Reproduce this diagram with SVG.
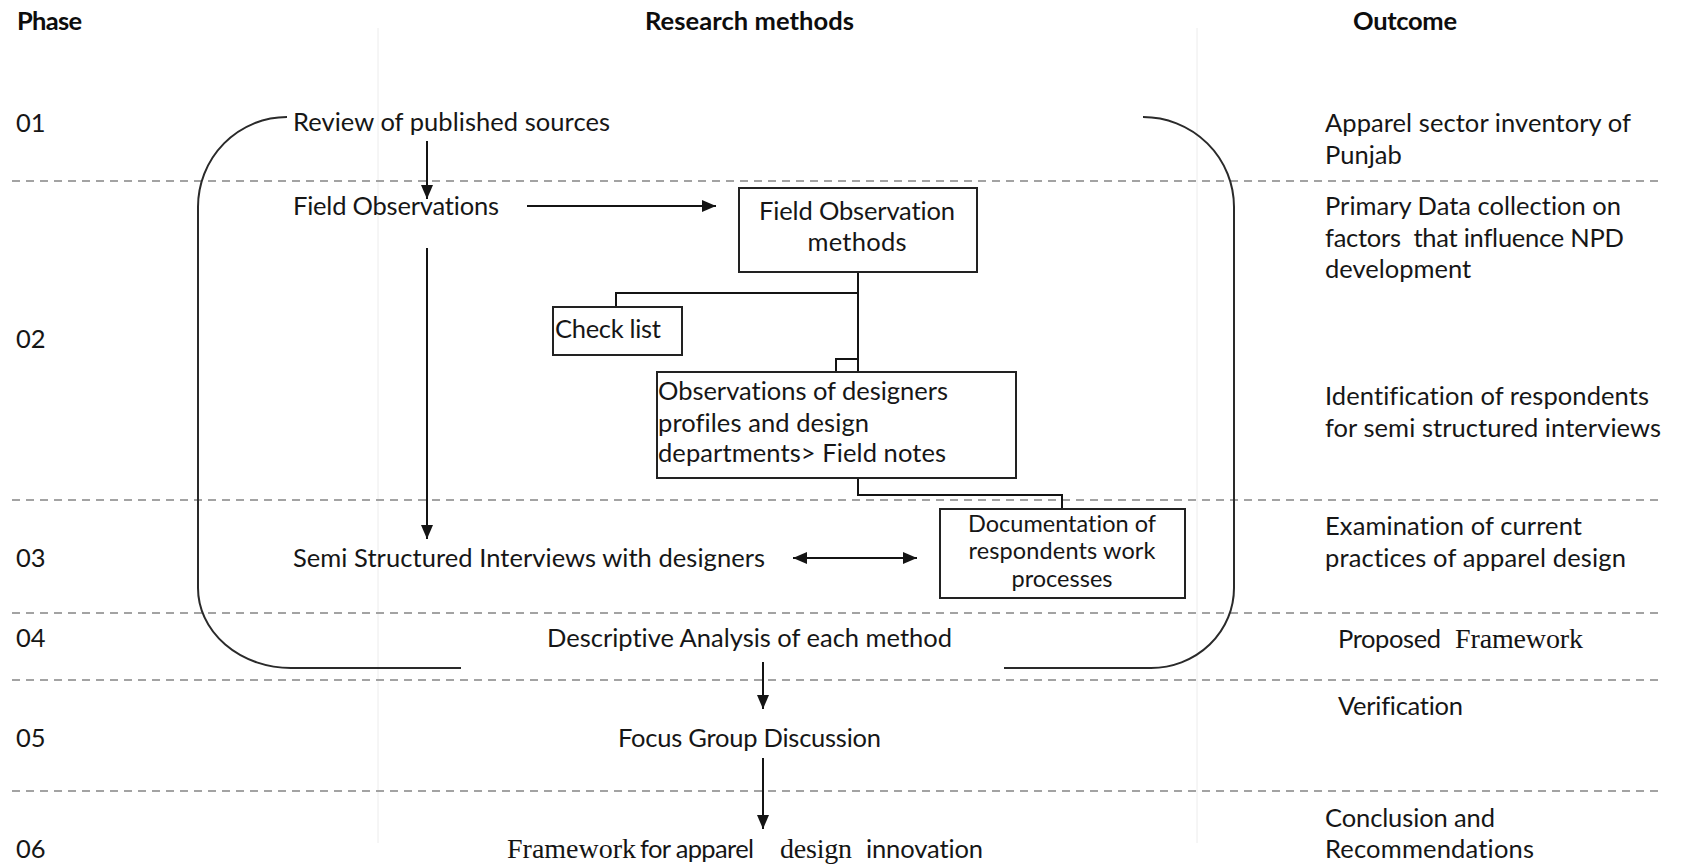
<svg xmlns="http://www.w3.org/2000/svg" width="1681" height="866" viewBox="0 0 1681 866">
  <style>
    .t { font-family: Lato, "Open Sans", "Liberation Sans", sans-serif; font-size: 25.5px; fill: #161616; font-variant-ligatures: none; }
    .h { font-weight: 700; fill: #0d0d0d; }
    .s { font-size: 23.5px; }
    .serif { font-family: "Liberation Serif", "Times New Roman", serif; font-size: 28px; fill: #141414; }
    .mid { text-anchor: middle; }
    .dash { fill: none; stroke: #a3a3a3; stroke-width: 2; stroke-dasharray: 8 6; }
    .grid { fill: none; stroke: #ececec; stroke-width: 1; }
    .ln { fill: none; stroke: #141414; stroke-width: 2; }
    .box { fill: #fff; stroke: #222; stroke-width: 2; }
    .brace { fill: none; stroke: #2a2a2a; stroke-width: 2; }
  </style>
  <defs>
    <marker id="head" viewBox="0 0 14 12" refX="14" refY="6" markerWidth="14" markerHeight="12" markerUnits="userSpaceOnUse" orient="auto-start-reverse">
      <path d="M0,0 L14,6 L0,12 Z" fill="#141414"/>
    </marker>
  </defs>

  <rect width="1681" height="866" fill="#fff"/>

  <!-- table column rules -->
  <g id="columns">
    <line class="grid" x1="378" y1="28" x2="378" y2="843"/>
    <line class="grid" x1="1197" y1="28" x2="1197" y2="843"/>
  </g>

  <!-- phase separators -->
  <g id="separators">
    <line class="dash" x1="12" y1="181" x2="1662" y2="181"/>
    <line class="dash" x1="12" y1="500" x2="1662" y2="500"/>
    <line class="dash" x1="12" y1="613" x2="1662" y2="613"/>
    <line class="dash" x1="12" y1="680" x2="1662" y2="680"/>
    <line class="dash" x1="12" y1="791" x2="1662" y2="791"/>
  </g>

  <!-- column headings -->
  <g id="headings">
    <text class="t h" x="17" y="30" textLength="65">Phase</text>
    <text class="t h" x="645" y="30" textLength="209">Research methods</text>
    <text class="t h" x="1353" y="30" textLength="104">Outcome</text>
  </g>

  <!-- phase numbers -->
  <g id="phases">
    <text class="t" x="16" y="132">01</text>
    <text class="t" x="16" y="348">02</text>
    <text class="t" x="16" y="567">03</text>
    <text class="t" x="16" y="647">04</text>
    <text class="t" x="16" y="747">05</text>
    <text class="t" x="16" y="858">06</text>
  </g>

  <!-- brackets grouping phases 01 to 04 -->
  <g id="brackets">
    <path class="brace" d="M287,117 A89,90 0 0 0 198,207 L198,588 A93,80 0 0 0 291,668 L461,668"/>
    <path class="brace" d="M1143,117 A91,90 0 0 1 1234,207 L1234,588 A83,80 0 0 1 1151,668 L1004,668"/>
  </g>

  <!-- connectors -->
  <g id="connectors">
    <line class="ln" x1="427" y1="141" x2="427" y2="199" marker-end="url(#head)"/>
    <line class="ln" x1="527" y1="206" x2="716" y2="206" marker-end="url(#head)"/>
    <line class="ln" x1="427" y1="248" x2="427" y2="539" marker-end="url(#head)"/>
    <path class="ln" d="M858,272 L858,372"/>
    <path class="ln" d="M858,293 L616,293 L616,307"/>
    <path class="ln" d="M836,372 L836,359 L858,359"/>
    <path class="ln" d="M858,478 L858,495 L1062,495 L1062,509"/>
    <line class="ln" x1="793" y1="558" x2="917" y2="558" marker-start="url(#head)" marker-end="url(#head)"/>
    <line class="ln" x1="763" y1="662" x2="763" y2="709" marker-end="url(#head)"/>
    <line class="ln" x1="763" y1="758" x2="763" y2="829" marker-end="url(#head)"/>
  </g>

  <!-- research method steps -->
  <g id="review">
    <text class="t" x="293" y="131" textLength="317">Review of published sources</text>
  </g>
  <g id="field-observations">
    <text class="t" x="293" y="215" textLength="206">Field Observations</text>
  </g>
  <g id="field-observation-methods">
    <rect class="box" x="739" y="188" width="238" height="84"/>
    <text class="t mid" x="857" y="220" textLength="196">Field Observation</text>
    <text class="t mid" x="857" y="251" textLength="99">methods</text>
  </g>
  <g id="check-list">
    <rect class="box" x="553" y="307" width="129" height="48"/>
    <text class="t" x="555" y="338" textLength="106">Check list</text>
  </g>
  <g id="observations">
    <rect class="box" x="657" y="372" width="359" height="106"/>
    <text class="t" x="658" y="400" textLength="290">Observations of designers</text>
    <text class="t" x="658" y="432" textLength="211">profiles and design</text>
    <text class="t" x="658" y="462" textLength="288">departments&gt; Field notes</text>
  </g>
  <g id="documentation">
    <rect class="box" x="940" y="509" width="245" height="89"/>
    <text class="t s mid" x="1062" y="532" textLength="188">Documentation of</text>
    <text class="t s mid" x="1062" y="559" textLength="187">respondents work</text>
    <text class="t s mid" x="1062" y="587" textLength="101">processes</text>
  </g>
  <g id="interviews">
    <text class="t" x="293" y="567" textLength="472">Semi Structured Interviews with designers</text>
  </g>
  <g id="analysis">
    <text class="t" x="547" y="647" textLength="405">Descriptive Analysis of each method</text>
  </g>
  <g id="focus-group">
    <text class="t" x="618" y="747" textLength="263">Focus Group Discussion</text>
  </g>
  <g id="framework">
    <text class="serif" x="507" y="858" textLength="129">Framework</text>
    <text class="t" x="640" y="858" textLength="114">for apparel</text>
    <text class="serif" x="780" y="858" textLength="72">design</text>
    <text class="t" x="866" y="858" textLength="117">innovation</text>
  </g>

  <!-- outcomes -->
  <g id="outcome-01">
    <text class="t" x="1325" y="132" textLength="306">Apparel sector inventory of</text>
    <text class="t" x="1325" y="164">Punjab</text>
  </g>
  <g id="outcome-02a">
    <text class="t" x="1325" y="215" textLength="296">Primary Data collection on</text>
    <text class="t" x="1325" y="247" textLength="299" xml:space="preserve">factors  that influence NPD</text>
    <text class="t" x="1325" y="278">development</text>
  </g>
  <g id="outcome-02b">
    <text class="t" x="1325" y="405" textLength="324">Identification of respondents</text>
    <text class="t" x="1325" y="437" textLength="336">for semi structured interviews</text>
  </g>
  <g id="outcome-03">
    <text class="t" x="1325" y="535" textLength="257">Examination of current</text>
    <text class="t" x="1325" y="567" textLength="301">practices of apparel design</text>
  </g>
  <g id="outcome-04">
    <text class="t" x="1338" y="648" textLength="103">Proposed</text>
    <text class="serif" x="1455" y="648" textLength="128">Framework</text>
  </g>
  <g id="outcome-05">
    <text class="t" x="1338" y="715" textLength="125">Verification</text>
  </g>
  <g id="outcome-06">
    <text class="t" x="1325" y="827" textLength="170">Conclusion and</text>
    <text class="t" x="1325" y="858" textLength="209">Recommendations</text>
  </g>
</svg>
